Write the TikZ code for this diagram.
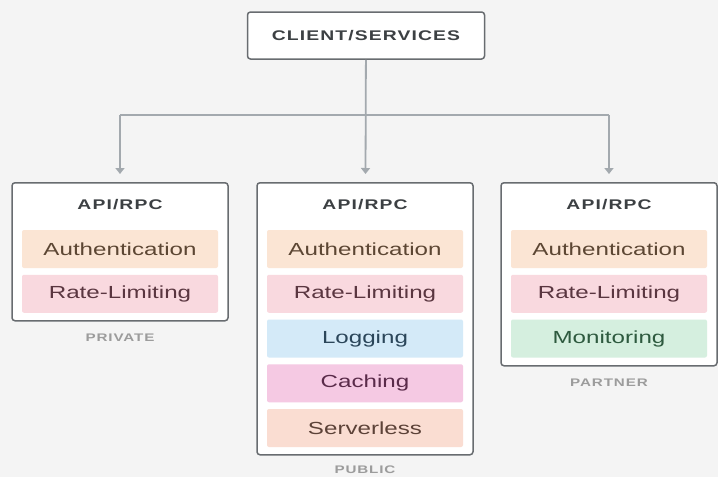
\documentclass[tikz,border=0pt]{standalone}
\usepackage{fontspec}
\setmainfont{Liberation Sans}[FakeStretch=1.38]
\newfontfamily\capsfont{Liberation Sans}[FakeStretch=1.38,LetterSpace=8]
\usetikzlibrary{positioning, arrows.meta}
\usepackage{xcolor}
\definecolor{bgc}{HTML}{F4F4F4}
\definecolor{edge}{HTML}{686C70}
\definecolor{wire}{HTML}{A3A9AE}
\definecolor{ink}{HTML}{3C4043}
\definecolor{tagc}{HTML}{9C9C9C}
\definecolor{authfill}{HTML}{FBE5D4}
\definecolor{authtext}{HTML}{5C4633}
\definecolor{ratefill}{HTML}{F9D9DF}
\definecolor{ratetext}{HTML}{5A3640}
\definecolor{logfill}{HTML}{D4EAF8}
\definecolor{logtext}{HTML}{2B465A}
\definecolor{cachefill}{HTML}{F5C9E3}
\definecolor{cachetext}{HTML}{5A2B4A}
\definecolor{servfill}{HTML}{FADDD2}
\definecolor{servtext}{HTML}{5C4238}
\definecolor{monfill}{HTML}{D5EFDF}
\definecolor{montext}{HTML}{2E5A3F}
\tikzset{
	>={Triangle[width=9pt,length=6pt]},
	node distance=44.75pt,
	panel/.style={draw=edge, fill=white, line width=1.5pt, rounded corners=3pt, minimum width=216pt, anchor=north},
	head/.style={font=\capsfont\bfseries\fontsize{14}{16}\selectfont, text=ink, inner sep=0pt},
	layer/.style={minimum width=196pt, minimum height=38pt, inner sep=0pt, rounded corners=2pt, font=\fontsize{17.5}{20}\selectfont},
	auth/.style={layer, fill=authfill, text=authtext},
	rate/.style={layer, fill=ratefill, text=ratetext},
	logs/.style={layer, fill=logfill, text=logtext},
	cache/.style={layer, fill=cachefill, text=cachetext},
	serv/.style={layer, fill=servfill, text=servtext},
	mon/.style={layer, fill=monfill, text=montext},
	tag/.style={font=\capsfont\bfseries\fontsize{11}{12}\selectfont, text=tagc, inner sep=0pt},
	link/.style={draw=wire, line width=1.8pt}}

\begin{document}
\begin{tikzpicture}[x=1pt,y=1pt]
		\useasboundingbox (0,0) rectangle (718,-477);
		\fill[bgc] (0,0) rectangle (718,-477);
		
		\node[panel, head, anchor=center, minimum width=237pt, minimum height=47pt] (client) at (366,-35.5) {CLIENT/SERVICES};
		
		\node[panel, minimum height=138pt] (private) at (120,-182) {};
		\node[panel, minimum height=272pt] (public) at (365,-182) {};
		\node[panel, minimum height=183pt] (partner) at (609,-182) {};
		
		% private
		\node[head] (api1) at ([yshift=-23pt]private.north) {API/RPC};
		\node[auth] (auth1) at ([yshift=-67pt]private.north) {Authentication};
		\node[rate, below of=auth1] (rate1) {Rate-Limiting};
		\node[tag, below=12pt of private] (tag1) {PRIVATE};
		
		% public
		\node[head] (api2) at ([yshift=-23pt]public.north) {API/RPC};
		\node[auth] (auth2) at ([yshift=-67pt]public.north) {Authentication};
		\node[rate, below of=auth2] (rate2) {Rate-Limiting};
		\node[logs, below of=rate2] (log2) {Logging};
		\node[cache, below of=log2] (cache2) {Caching};
		\node[serv, below of=cache2] (serv2) {Serverless};
		\node[tag, below=10pt of public] (tag2) {PUBLIC};
		
		% partner
		\node[head] (api3) at ([yshift=-23pt]partner.north) {API/RPC};
		\node[auth] (auth3) at ([yshift=-67pt]partner.north) {Authentication};
		\node[rate, below of=auth3] (rate3) {Rate-Limiting};
		\node[mon, below of=rate3] (mon3) {Monitoring};
		\node[tag, below=12pt of partner] (tag3) {PARTNER};
		
		\coordinate (split) at (366,-115);
		\draw[link] (split -| private) -- (split -| partner);
		\draw[link, ->, shorten >=8pt] (client) -- (public);
		\draw[link, ->, shorten >=8pt] (split -| private) -- (private);
		\draw[link, ->, shorten >=8pt] (split -| partner) -- (partner);
	\end{tikzpicture}
\end{document}
